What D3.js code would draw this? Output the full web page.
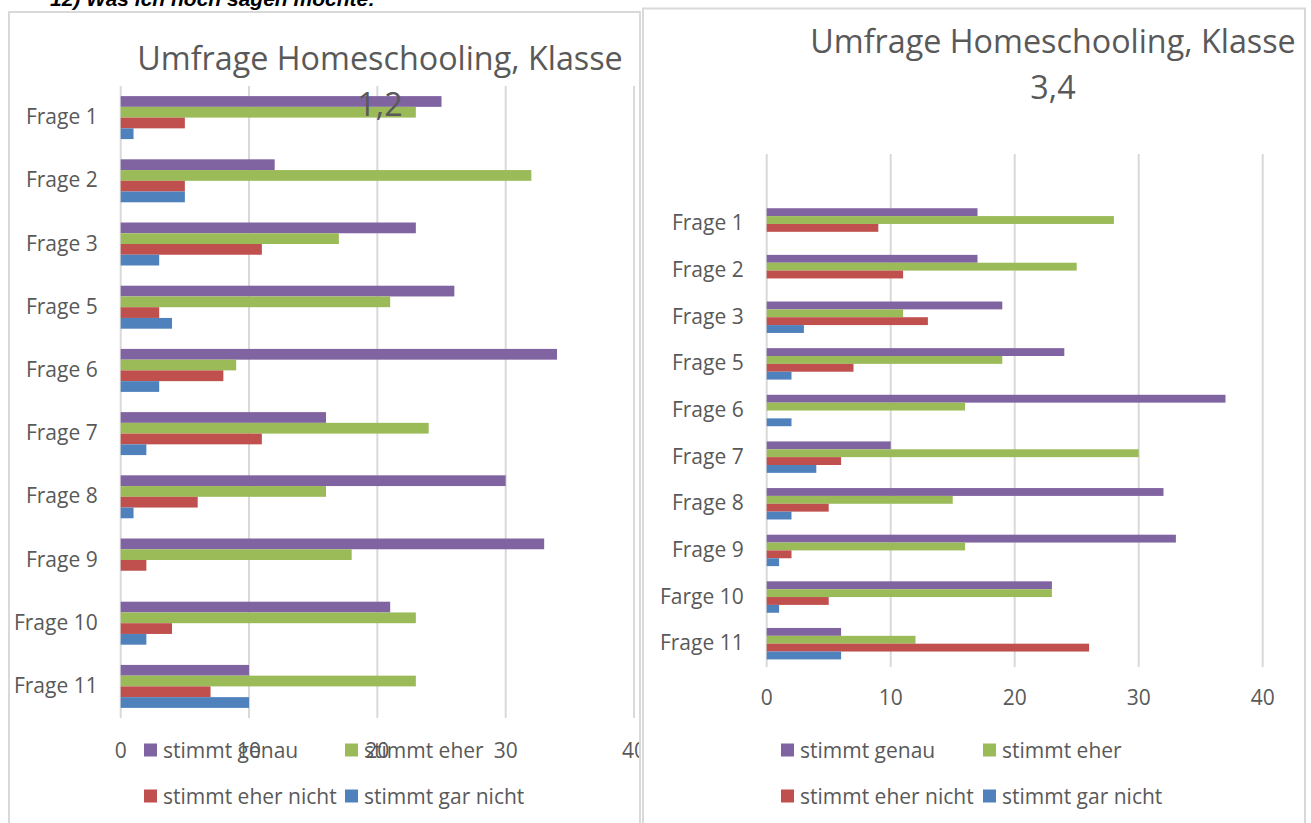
<!DOCTYPE html>
<html>
<head>
<meta charset="utf-8">
<script src="https://cdn.jsdelivr.net/npm/d3@7"></script>
<style>
html,body{margin:0;padding:0;background:#fff;overflow:hidden;}
svg{display:block;}
</style>
</head>
<body>
<svg id="chart" width="1311" height="823"></svg>
<script>
// ---------- DATA ----------
const seriesNames = ["stimmt genau", "stimmt eher", "stimmt eher nicht", "stimmt gar nicht"];
const tickValues = [0, 10, 20, 30, 40];

const categoriesLeft = ["Frage 1","Frage 2","Frage 3","Frage 5","Frage 6","Frage 7","Frage 8","Frage 9","Frage 10","Frage 11"];
const genauLeft     = [25, 12, 23, 26, 34, 16, 30, 33, 21, 10];
const eherLeft      = [23, 32, 17, 21,  9, 24, 16, 18, 23, 23];
const eherNichtLeft = [ 5,  5, 11,  3,  8, 11,  6,  2,  4,  7];
const garNichtLeft  = [ 1,  5,  3,  4,  3,  2,  1,  0,  2, 10];

const categoriesRight = ["Frage 1","Frage 2","Frage 3","Frage 5","Frage 6","Frage 7","Frage 8","Frage 9","Farge 10","Frage 11"];
const genauRight     = [17, 17, 19, 24, 37, 10, 32, 33, 23,  6];
const eherRight      = [28, 25, 11, 19, 16, 30, 15, 16, 23, 12];
const eherNichtRight = [ 9, 11, 13,  7,  0,  6,  5,  2,  5, 26];
const garNichtRight  = [ 0,  0,  3,  2,  2,  4,  2,  1,  1,  6];

const titleLeft = ["Umfrage Homeschooling, Klasse", "1,2"];
const titleRight = ["Umfrage Homeschooling, Klasse", "3,4"];
const headingText = "12) Was ich noch sagen möchte:";

// ---------- STYLE ----------
const colors = ["#8064A2", "#9BBB59", "#C0504D", "#4F81BD"];
const FONT = "'Open Sans', 'Noto Sans', sans-serif";
const TEXT = "#595959";
const GRID = "#d9d9d9";

const svg = d3.select("#chart");
svg.append("rect").attr("width", 1311).attr("height", 823).attr("fill", "#fff");

// heading (cut off at top, as in the original)
svg.append("text")
  .attr("x", 50).attr("y", 6)
  .attr("font-family", "'Liberation Sans', Arial, sans-serif")
  .attr("font-weight", "bold").attr("font-style", "italic")
  .attr("font-size", 21).attr("fill", "#000")
  .text(headingText);

function drawChart(cfg) {
  const g = svg.append("g");
  // frame
  g.append("rect")
    .attr("x", cfg.frame[0]).attr("y", cfg.frame[1])
    .attr("width", cfg.frame[2]).attr("height", cfg.frame[3])
    .attr("fill", "#fff").attr("stroke", GRID).attr("stroke-width", 2);

  const clipId = "clip" + cfg.id;
  g.append("clipPath").attr("id", clipId).append("rect")
    .attr("x", cfg.frame[0] + 1).attr("y", cfg.frame[1] + 1)
    .attr("width", cfg.frame[2] - 2).attr("height", cfg.frame[3]);
  const inner = g.append("g").attr("clip-path", `url(#${clipId})`);

  const x = d3.scaleLinear().domain([0, 40]).range(cfg.xRange);
  const domain = cfg.blankTop ? ["__blank__", ...cfg.categories] : cfg.categories;
  const y = d3.scaleBand().domain(domain).range(cfg.yRange)
    .paddingInner(cfg.padInner).paddingOuter(cfg.padInner / 2);
  const ys = d3.scaleBand().domain(seriesNames).range([0, y.bandwidth()]);

  // gridlines
  inner.append("g").selectAll("line").data(tickValues).join("line")
    .attr("x1", d => x(d)).attr("x2", d => x(d))
    .attr("y1", cfg.yRange[0]).attr("y2", cfg.yRange[1])
    .attr("stroke", GRID).attr("stroke-width", 2);

  // bars
  const rows = cfg.categories.map((c, i) => ({
    cat: c,
    vals: cfg.series.map((s, k) => ({ name: seriesNames[k], v: s[i], k }))
  }));
  const grp = inner.append("g").selectAll("g").data(rows).join("g")
    .attr("transform", d => `translate(0,${y(d.cat)})`);
  grp.selectAll("rect").data(d => d.vals.filter(e => e.v > 0)).join("rect")
    .attr("x", x(0)).attr("y", d => ys(d.name))
    .attr("width", d => x(d.v) - x(0))
    .attr("height", ys.bandwidth())
    .attr("fill", d => colors[d.k]);

  // category labels
  inner.append("g").selectAll("text").data(cfg.categories).join("text")
    .attr("x", x(0) - 23).attr("y", d => y(d) + y.bandwidth() / 2 - 1.5)
    .attr("text-anchor", "end").attr("dominant-baseline", "central")
    .attr("font-family", FONT).attr("font-size", cfg.labelSize).attr("fill", TEXT)
    .text(d => d);

  // tick labels
  inner.append("g").selectAll("text").data(tickValues).join("text")
    .attr("x", d => x(d)).attr("y", cfg.tickY)
    .attr("text-anchor", "middle").attr("dominant-baseline", "central")
    .attr("font-family", FONT).attr("font-size", cfg.labelSize).attr("fill", TEXT)
    .text(d => d);

  // title
  inner.append("g").selectAll("text").data(cfg.title).join("text")
    .attr("x", cfg.titleX).attr("y", (d, i) => cfg.titleY + i * 46)
    .attr("text-anchor", "middle").attr("dominant-baseline", "central")
    .attr("font-family", FONT).attr("font-size", 32.3).attr("fill", TEXT)
    .text(d => d);

  // legend
  const leg = inner.append("g").selectAll("g").data(seriesNames).join("g")
    .attr("transform", (d, i) => `translate(${cfg.legendX[i % 2]},${cfg.legendY[Math.floor(i / 2)]})`);
  leg.append("rect").attr("x", 0).attr("y", -6.5).attr("width", 13).attr("height", 13)
    .attr("fill", (d, i) => colors[i]);
  leg.append("text").attr("x", 19).attr("y", 0)
    .attr("dominant-baseline", "central")
    .attr("font-family", FONT).attr("font-size", cfg.labelSize).attr("fill", TEXT)
    .text(d => d);
}

drawChart({
  id: "L",
  frame: [9, 12, 631, 830],
  xRange: [120.7, 634],
  yRange: [86, 718],
  padInner: 0.32,
  blankTop: false,
  categories: categoriesLeft,
  series: [genauLeft, eherLeft, eherNichtLeft, garNichtLeft],
  labelSize: 21,
  tickY: 750,
  title: titleLeft,
  titleX: 380, titleY: 57,
  legendX: [144, 345],
  legendY: [750, 796]
});

drawChart({
  id: "R",
  frame: [643, 8.5, 662, 830],
  xRange: [766.7, 1262.7],
  yRange: [154, 667],
  padInner: 0.326,
  blankTop: true,
  categories: categoriesRight,
  series: [genauRight, eherRight, eherNichtRight, garNichtRight],
  labelSize: 21,
  tickY: 697,
  title: titleRight,
  titleX: 1053, titleY: 40,
  legendX: [781, 983],
  legendY: [750, 796]
});
</script>
</body>
</html>
